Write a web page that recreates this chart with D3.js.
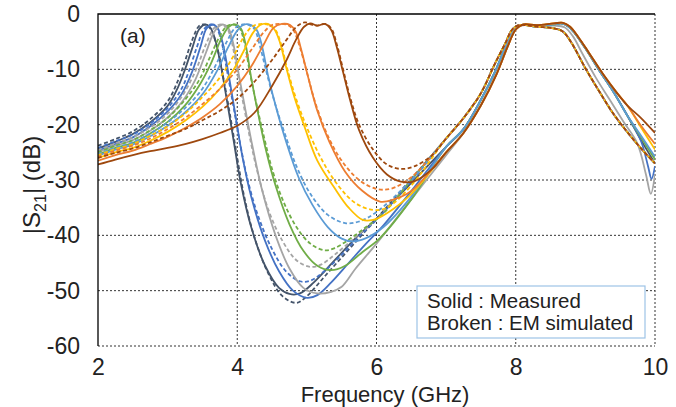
<!DOCTYPE html>
<html>
<head>
<meta charset="utf-8">
<script src="https://cdn.jsdelivr.net/npm/d3@7"></script>
<style>
  body { margin: 0; background: #fff; }
  svg { display: block; font-family: "Liberation Sans", Arial, sans-serif; }
  .grid-lines line { stroke: #333; stroke-width: 1; stroke-dasharray: 2 2; }
  .axis text { font-size: 23px; fill: #222; }
  .chart-line { fill: none; stroke-width: 1.8; }
</style>
</head>
<body>
<div class="mainview"></div>
<script>

// Data ////////////////////////////////////

const freqTicks = [2, 4, 6, 8, 10];
const dbTicks = [0, -10, -20, -30, -40, -50, -60];

const colors = ["#44546A", "#4472C4", "#A5A5A5", "#70AD47", "#5B9BD5", "#FFC000", "#ED7D31", "#9E480E"];

// second passband, shared by the simulated curves
const simTail = [[7.0,-22.5],[7.25,-18.8],[7.5,-14.3],[7.7,-9],[7.85,-5.3],[7.95,-2.8],[8.05,-2.0],[8.3,-2.3],[8.55,-2.6],[8.68,-3.2],[8.8,-5.2],[9.0,-9.8],[9.2,-14],[9.4,-18],[9.6,-21.3],[9.8,-24.3],[10.0,-27]];
// second passband, measured
const measTailA = [[7.0,-24],[7.25,-20.8],[7.5,-15.5],[7.7,-10.5],[7.85,-6],[7.97,-2.8],[8.07,-2.0],[8.3,-2.1],[8.55,-1.9],[8.65,-1.7],[8.75,-2.2],[8.85,-3.5],[9.0,-6.2],[9.2,-10.2],[9.4,-14],[9.6,-18.3]];
const measTailB = [[7.0,-25],[7.25,-21.5],[7.5,-16.5],[7.72,-11],[7.88,-6],[8.0,-2.8],[8.1,-1.9],[8.3,-2],[8.55,-1.7],[8.68,-1.6],[8.78,-2.3],[8.9,-4.2],[9.05,-7],[9.25,-10.8],[9.45,-14.2],[9.6,-16.5]];

const navyEnd = [[9.8,-22.8],[10,-27]];
const blueEnd = [[9.8,-23],[9.9,-27.5],[9.95,-29.8],[10,-27.5]];
const greenEnd = [[9.8,-22.3],[10,-26.3]];
const lbEnd = [[9.8,-22],[10,-25.8]];
const goldEnd = [[9.8,-20.5],[10,-24.5]];
const orangeEnd = [[9.8,-20.2],[10,-23.5]];
const brownEnd = [[9.8,-18.8],[10,-21.5]];

const navySim = [[2,-23.8],[2.25,-22.6],[2.5,-21.2],[2.75,-19.0],[3.0,-15.8],[3.15,-12.0],[3.25,-8.5],[3.35,-4.8],[3.45,-2.2],[3.52,-1.9],[3.6,-2.4],[3.7,-5.5],[3.8,-11.5],[3.9,-18.5],[4.0,-26],[4.1,-33],[4.25,-40.5],[4.45,-47],[4.65,-51],[4.85,-52.2],[5.0,-51],[5.25,-47.5],[5.5,-44],[5.75,-40.5],[6.0,-37],[6.5,-29.8]];
const navyMeas = [[2,-24.3],[2.25,-23.1],[2.5,-21.7],[2.75,-19.6],[3.0,-16.6],[3.15,-13.2],[3.25,-10],[3.35,-6.3],[3.45,-2.8],[3.54,-1.9],[3.61,-2.4],[3.68,-4.5],[3.76,-9],[3.85,-15.5],[3.95,-23],[4.05,-30.5],[4.2,-38.5],[4.4,-45.5],[4.6,-49.5],[4.75,-50.6],[4.9,-50.5],[5.1,-48.5],[5.4,-44.5],[5.7,-40.5],[6.0,-37],[6.5,-30.5]];

const blueSim = [[2,-24.2],[2.25,-23.0],[2.5,-21.8],[2.75,-19.8],[3.0,-17],[3.2,-13.5],[3.3,-10.5],[3.42,-6],[3.52,-2.8],[3.62,-1.9],[3.7,-2.5],[3.77,-4.8],[3.85,-10],[3.95,-17],[4.05,-24],[4.15,-30],[4.3,-36.5],[4.5,-42.5],[4.7,-46.5],[4.9,-48.3],[5.05,-48.2],[5.25,-46.5],[5.5,-43.5],[5.75,-40.2],[6.0,-37.2],[6.5,-30.2]];
const blueMeas = [[2,-24.7],[2.25,-23.5],[2.5,-22.3],[2.75,-20.3],[3.0,-17.6],[3.2,-14.5],[3.35,-10.5],[3.47,-6],[3.56,-2.6],[3.65,-1.9],[3.72,-2.6],[3.79,-5.2],[3.87,-10.5],[3.97,-18],[4.07,-25.5],[4.2,-33],[4.4,-41],[4.6,-46.5],[4.8,-50],[5.0,-51.3],[5.15,-50.8],[5.35,-48.5],[5.6,-45],[5.85,-41.5],[6.1,-38.2],[6.5,-32]];

const graySim = [[2,-24.6],[2.25,-23.4],[2.5,-22.3],[2.75,-20.5],[3.0,-18],[3.2,-15],[3.4,-10.3],[3.55,-5.5],[3.67,-2.5],[3.77,-1.9],[3.85,-2.5],[3.92,-5],[4.0,-10.5],[4.1,-17],[4.2,-23.5],[4.3,-29],[4.45,-35.5],[4.65,-41],[4.85,-44.5],[5.05,-45.7],[5.2,-45.3],[5.4,-43.5],[5.7,-40.3],[6.0,-37],[6.5,-30]];
const grayMeas = [[2,-25],[2.25,-23.8],[2.5,-22.8],[2.75,-21.1],[3.0,-18.7],[3.2,-16],[3.4,-11.8],[3.55,-7],[3.68,-3],[3.79,-1.9],[3.87,-2.5],[3.94,-5.2],[4.02,-10.8],[4.12,-17.5],[4.22,-24],[4.35,-31.5],[4.55,-40],[4.75,-46],[4.95,-49.5],[5.15,-50.5],[5.35,-50.2],[5.5,-49.3],[5.7,-46],[6.0,-41.5],[6.5,-33.5],[7.0,-25.5],[7.25,-21.5],[7.5,-16.5],[7.7,-11.5],[7.85,-7],[7.97,-3.2],[8.08,-2.1],[8.3,-2.2],[8.55,-2.1],[8.7,-2.4],[8.82,-4],[8.95,-7],[9.15,-11.5],[9.35,-15.5],[9.55,-19.5],[9.75,-23.5],[9.87,-29],[9.94,-32.5],[10,-29]];

const greenSim = [[2,-25],[2.25,-23.8],[2.5,-22.8],[2.75,-21],[3.0,-18.8],[3.25,-15.5],[3.45,-12],[3.6,-8],[3.75,-4],[3.85,-2.2],[3.95,-1.9],[4.03,-2.5],[4.1,-5],[4.18,-10.5],[4.28,-16.5],[4.38,-22],[4.5,-28],[4.65,-33.5],[4.85,-38.5],[5.05,-41.5],[5.25,-42.7],[5.4,-42.3],[5.6,-40.8],[5.85,-38.5],[6.1,-36],[6.5,-30]];
const greenMeas = [[2,-25.4],[2.25,-24.2],[2.5,-23.3],[2.75,-21.6],[3.0,-19.5],[3.25,-16.5],[3.45,-13],[3.62,-9],[3.77,-4.5],[3.88,-2.3],[3.97,-1.9],[4.05,-2.6],[4.12,-5.5],[4.2,-11.5],[4.3,-18],[4.42,-25],[4.55,-31],[4.75,-38],[4.95,-42.8],[5.15,-45.5],[5.35,-46.3],[5.55,-45.5],[5.8,-43],[6.05,-40.5],[6.5,-33.5]];

const lbSim = [[2,-25.3],[2.25,-24.2],[2.5,-23.2],[2.75,-21.6],[3.0,-19.6],[3.25,-17],[3.5,-13.5],[3.7,-9],[3.85,-5],[3.97,-2.5],[4.08,-1.9],[4.17,-2.0],[4.25,-2.8],[4.32,-5.5],[4.42,-10.5],[4.55,-16.5],[4.68,-21.5],[4.85,-27.5],[5.05,-32.5],[5.3,-36.3],[5.55,-37.8],[5.75,-37.5],[6.0,-35.8],[6.5,-30]];
const lbMeas = [[2,-25.6],[2.25,-24.5],[2.5,-23.6],[2.75,-22.1],[3.0,-20.2],[3.25,-17.8],[3.5,-14.5],[3.7,-10.5],[3.87,-6],[4.0,-3],[4.1,-1.9],[4.2,-2.0],[4.28,-2.9],[4.35,-5.5],[4.44,-11],[4.56,-17],[4.7,-23],[4.88,-29.5],[5.08,-34.5],[5.3,-38.5],[5.5,-40.6],[5.65,-41.1],[5.85,-40.5],[6.1,-38.5],[6.5,-33]];

const goldSim = [[2,-25.5],[2.25,-24.4],[2.5,-23.5],[2.75,-22],[3.0,-20.3],[3.25,-18],[3.5,-15],[3.75,-11.5],[3.95,-7.5],[4.1,-4],[4.22,-2.2],[4.35,-1.8],[4.46,-2.0],[4.55,-2.9],[4.63,-5.5],[4.72,-10],[4.85,-15.5],[5.0,-20.5],[5.2,-26],[5.45,-31],[5.7,-34.2],[5.95,-35.4],[6.15,-35],[6.5,-31]];
const goldMeas = [[2,-26],[2.25,-25],[2.5,-24.2],[2.75,-22.9],[3.0,-21.3],[3.25,-19.3],[3.5,-16.8],[3.75,-13.5],[3.95,-10],[4.1,-6.5],[4.22,-3.5],[4.33,-2],[4.44,-1.8],[4.53,-2.7],[4.61,-5],[4.7,-9.5],[4.82,-15],[4.97,-20.5],[5.15,-26.5],[5.4,-31.5],[5.6,-35],[5.8,-37.2],[5.95,-37.2],[6.15,-36],[6.5,-32.5]];

const orangeSim = [[2,-25.8],[2.25,-24.7],[2.5,-23.8],[2.75,-22.5],[3.0,-20.8],[3.25,-18.8],[3.5,-16.3],[3.75,-13.5],[4.0,-10],[4.2,-6.5],[4.38,-3.3],[4.5,-2],[4.62,-1.8],[4.73,-2.0],[4.81,-3],[4.9,-6],[5.0,-10.5],[5.12,-16],[5.3,-22],[5.5,-26.5],[5.75,-30],[6.0,-31.6],[6.2,-31.6],[6.5,-29.5]];
const orangeMeas = [[2,-26.5],[2.25,-25.5],[2.5,-24.7],[2.75,-23.5],[3.0,-22.2],[3.25,-20.6],[3.5,-18.7],[3.75,-16.3],[4.0,-13],[4.2,-9.5],[4.38,-5.5],[4.52,-2.5],[4.64,-1.8],[4.76,-2.0],[4.84,-3.2],[4.92,-6.5],[5.02,-11.5],[5.15,-17.5],[5.32,-23],[5.55,-28.5],[5.8,-32],[6.05,-33.9],[6.25,-33.5],[6.5,-32]];

const brownSim = [[2,-26],[2.25,-25.1],[2.5,-24.3],[2.75,-23.2],[3.0,-22],[3.25,-20.8],[3.5,-19.2],[3.75,-17.5],[4.0,-15.3],[4.25,-12.2],[4.5,-8.3],[4.7,-4.8],[4.85,-2.3],[4.97,-1.5],[5.07,-1.9],[5.15,-2.1],[5.26,-1.8],[5.35,-2.6],[5.43,-5.5],[5.52,-10],[5.62,-15],[5.75,-20],[5.95,-24.5],[6.15,-27.2],[6.35,-28],[6.55,-27.5],[6.8,-25.5]];
const brownMeas = [[2,-27.2],[2.25,-26.3],[2.5,-25.5],[2.75,-24.8],[3.0,-24.2],[3.25,-23.5],[3.5,-22.6],[3.75,-21.5],[4.0,-20.2],[4.25,-17.8],[4.5,-13],[4.7,-8.5],[4.85,-4.5],[4.96,-2.3],[5.05,-1.7],[5.15,-2.1],[5.26,-1.8],[5.35,-2.9],[5.43,-6],[5.52,-10.5],[5.62,-15.5],[5.75,-21],[5.95,-26],[6.15,-29],[6.35,-30.3],[6.55,-30.2],[6.8,-28]];

const legendLines = ["Solid : Measured", "Broken : EM simulated"];

// Series table ////////////////////////////////////

const series = [
    { color: colors[0], dashed: false, data: navyMeas.concat(measTailA, navyEnd) },
    { color: colors[0], dashed: true, data: navySim.concat(simTail) },
    { color: colors[1], dashed: false, data: blueMeas.concat(measTailA, blueEnd) },
    { color: colors[1], dashed: true, data: blueSim.concat(simTail) },
    { color: colors[2], dashed: false, data: grayMeas },
    { color: colors[2], dashed: true, data: graySim.concat(simTail) },
    { color: colors[3], dashed: false, data: greenMeas.concat(measTailA, greenEnd) },
    { color: colors[3], dashed: true, data: greenSim.concat(simTail) },
    { color: colors[4], dashed: false, data: lbMeas.concat(measTailA, lbEnd) },
    { color: colors[4], dashed: true, data: lbSim.concat(simTail) },
    { color: colors[5], dashed: false, data: goldMeas.concat(measTailB, goldEnd) },
    { color: colors[5], dashed: true, data: goldSim.concat(simTail) },
    { color: colors[6], dashed: false, data: orangeMeas.concat(measTailB, orangeEnd) },
    { color: colors[6], dashed: true, data: orangeSim.concat(simTail) },
    { color: colors[7], dashed: false, data: brownMeas.concat(measTailB, brownEnd) },
    { color: colors[7], dashed: true, data: brownSim.concat(simTail) }
];

// Chart ////////////////////////////////////

const dim = { width: 676, height: 407 };
const margin = { top: 14, right: 21, bottom: 61, left: 98 };

const x = d3.scaleLinear()
    .domain([2, 10])
    .range([margin.left, dim.width - margin.right]);

const y = d3.scaleLinear()
    .domain([-60, 0])
    .range([dim.height - margin.bottom, margin.top]);

const svg = d3.select(".mainview").append("svg")
    .attr("width", dim.width)
    .attr("height", dim.height);

svg.append("defs").append("clipPath")
    .attr("id", "plot-clip")
    .append("rect")
    .attr("x", margin.left).attr("y", margin.top)
    .attr("width", x(10) - x(2))
    .attr("height", y(-60) - y(0));

// grid lines
const grid = svg.append("g").attr("class", "grid-lines");
grid.selectAll("line.h")
    .data(dbTicks.filter(d => d !== 0))
    .join("line")
    .attr("class", "h")
    .attr("x1", x(2)).attr("x2", x(10))
    .attr("y1", d => y(d)).attr("y2", d => y(d));
grid.selectAll("line.v")
    .data(freqTicks.filter(d => d !== 2))
    .join("line")
    .attr("class", "v")
    .attr("x1", d => x(d)).attr("x2", d => x(d))
    .attr("y1", y(0)).attr("y2", y(-60));

// curves
const line = d3.line()
    .curve(d3.curveCatmullRom.alpha(0.5))
    .x(d => x(d[0]))
    .y(d => y(d[1]));

svg.append("g")
    .attr("clip-path", "url(#plot-clip)")
    .selectAll("path")
    .data(series)
    .join("path")
    .attr("class", "chart-line")
    .attr("stroke", d => d.color)
    .attr("stroke-dasharray", d => d.dashed ? "4 2.5" : null)
    .attr("d", d => line(d.data));

// frame: solid left and top
svg.append("path")
    .attr("d", `M${ x(2) },${ y(-60) } V${ y(0) } H${ x(10) }`)
    .attr("fill", "none")
    .attr("stroke", "#000")
    .attr("stroke-width", 1.3);

// axes
const xAxis = d3.axisBottom(x)
    .tickValues(freqTicks)
    .tickFormat(d3.format("d"))
    .tickSize(0)
    .tickPadding(13);

svg.append("g")
    .attr("class", "axis x")
    .attr("transform", `translate(0, ${ y(-60) })`)
    .call(xAxis)
    .call(g => g.select(".domain").remove());

const yAxis = d3.axisLeft(y)
    .tickValues(dbTicks)
    .tickFormat(d => d === 0 ? "0" : "-" + Math.abs(d))
    .tickSize(0)
    .tickPadding(18);

svg.append("g")
    .attr("class", "axis y")
    .attr("transform", `translate(${ margin.left }, 0)`)
    .call(yAxis)
    .call(g => g.select(".domain").remove());

// axis titles
svg.append("text")
    .attr("x", 385)
    .attr("y", 402)
    .attr("text-anchor", "middle")
    .style("font-size", "22px")
    .style("fill", "#222")
    .text("Frequency (GHz)");

const yTitle = svg.append("text")
    .attr("transform", `translate(40, ${ 185 }) rotate(-90)`)
    .attr("text-anchor", "middle")
    .style("font-size", "24px")
    .style("fill", "#222");
yTitle.append("tspan").text("|S");
yTitle.append("tspan").attr("dy", 6).style("font-size", "16px").text("21");
yTitle.append("tspan").attr("dy", -6).text("| (dB)");

// panel label
svg.append("text")
    .attr("x", 120)
    .attr("y", 43)
    .style("font-size", "21px")
    .style("fill", "#222")
    .text("(a)");

// legend
const legend = svg.append("g").attr("class", "legend");
legend.append("rect")
    .attr("x", 417).attr("y", 286)
    .attr("width", 228).attr("height", 52)
    .attr("fill", "#fff")
    .attr("stroke", "#9DC3E6")
    .attr("stroke-width", 1.2);
legend.selectAll("text")
    .data(legendLines)
    .join("text")
    .attr("x", 427)
    .attr("y", (d, i) => 308 + i * 22)
    .style("font-size", "20.5px")
    .style("fill", "#222")
    .text(d => d);

</script>
</body>
</html>
